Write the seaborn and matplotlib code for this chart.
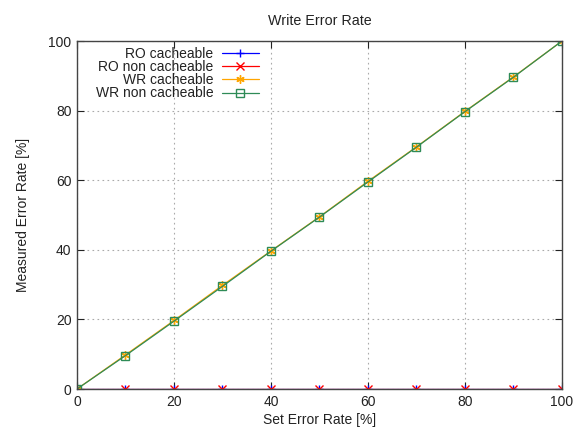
import numpy as np
import pandas as pd
import matplotlib
matplotlib.use("Agg")
import matplotlib.pyplot as plt
import seaborn as sns

# data
set_rate = [0, 10, 20, 30, 40, 50, 60, 70, 80, 90, 100]
ro_cacheable = [0, 0, 0, 0, 0, 0, 0, 0, 0, 0, 0]
ro_non_cacheable = [0, 0, 0, 0, 0, 0, 0, 0, 0, 0, 0]
wr_cacheable = [0, 9.8, 19.7, 29.8, 39.7, 49.5, 59.7, 69.6, 79.8, 89.7, 100]
wr_non_cacheable = [0, 9.6, 19.5, 29.5, 39.6, 49.4, 59.5, 69.5, 79.7, 89.6, 100]

series = [
    ("RO cacheable", ro_cacheable, "#0000ff", "+", "full"),
    ("RO non cacheable", ro_non_cacheable, "#ff0000", "x", "full"),
    ("WR cacheable", wr_cacheable, "#ffa500", (6, 2, 0), "full"),
    ("WR non cacheable", wr_non_cacheable, "#2e8b57", "s", "none"),
]

sns.set_theme(style="ticks")
plt.rcParams["font.family"] = ["Liberation Sans", "DejaVu Sans"]

fig = plt.figure(figsize=(5.78, 4.28), dpi=100)
ax = fig.add_axes([0.1332, 0.0911, 0.8391, 0.8131])

for label, vals, color, marker, fill in series:
    df = pd.DataFrame({"x": set_rate, "y": vals})
    sns.lineplot(data=df, x="x", y="y", ax=ax, color=color, marker=marker,
                 markersize=6, linewidth=0.9, label=label,
                 markerfacecolor=color if fill == "full" else "none",
                 markeredgecolor=color, markeredgewidth=1.0)

ax.set_xlim(0, 100)
ax.set_ylim(0, 100)
ax.set_xticks(np.arange(0, 101, 20))
ax.set_yticks(np.arange(0, 101, 20))
ax.tick_params(direction="in", length=5, width=0.8, top=True, right=True,
               labelsize=10, colors="#222222", pad=4)
ax.grid(True, linestyle=(0, (1.5, 3)), color="#aaaaaa", linewidth=0.8)
for sp in ax.spines.values():
    sp.set_color("#444444")
    sp.set_linewidth(1.0)

ax.set_xlabel("Set Error Rate [%]", fontsize=10, color="#222222", labelpad=3.5)
ax.set_ylabel("Measured Error Rate [%]", fontsize=10, color="#222222", labelpad=13.5)
ax.set_title("Write Error Rate", fontsize=10.3, color="#222222", pad=11.5)

leg = ax.legend(loc="upper right", bbox_to_anchor=(0.3753, 0.984), frameon=False,
                markerfirst=False, fontsize=10, handlelength=2.68,
                handletextpad=0.6, labelspacing=-0.05, borderaxespad=0,
                borderpad=0)
for t in leg.get_texts():
    t.set_color("#222222")

fig.savefig("out.png", dpi=100)
